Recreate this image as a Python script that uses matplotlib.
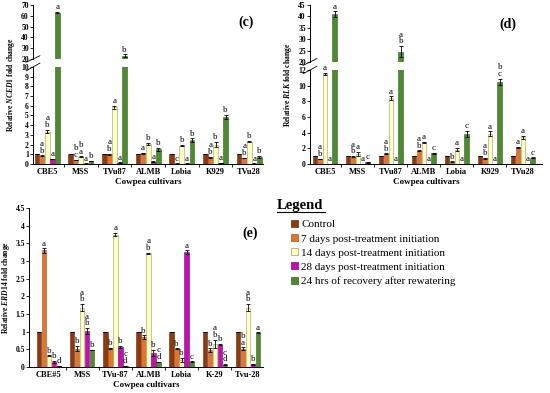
import matplotlib.pyplot as plt
import numpy as np
from matplotlib.patches import Patch
from matplotlib.lines import Line2D

plt.rcParams['font.family'] = 'Liberation Serif'
plt.rcParams['font.weight'] = 'bold'
plt.rcParams['axes.labelweight'] = 'bold'
plt.rcParams['mathtext.fontset'] = 'custom'
plt.rcParams['mathtext.it'] = 'Liberation Serif:italic:bold'
plt.rcParams['mathtext.rm'] = 'Liberation Serif:bold'

series = ['Control', '7 days post-treatment initiation',
          '14 days post-treatment initiation',
          '28 days post-treatment initiation',
          '24 hrs of recovery after rewatering']
colors = ['#8B3A12', '#E0762E', '#FFFFC4', '#C010B0', '#4F8A32']
edges = ['#6B2A08', '#A85420', '#9A9A70', '#8A0080', '#35601F']

cultivars_cd = ['CBE5', 'MSS', 'TVu87', 'ALMB', 'Lobia', 'K929', 'TVu28']
cultivars_e = ['CBE#5', 'MSS', 'TVu-87', 'ALMB', 'Lobia', 'K-29', 'Tvu-28']

# rows: cultivars, columns: series
nced1 = [[1, 0.85, 3.35, 0.5, 63],
         [1, 0.4, 0.75, 0.05, 0.3],
         [1, 1.0, 5.85, 0.15, 23],
         [1, 1.1, 2.1, 0.25, 1.5],
         [1, 0.05, 1.9, 0.05, 2.45],
         [1, 0.7, 2.0, 0.1, 4.85],
         [1, 0.6, 2.3, 0.05, 0.75]]
nced1_err = [[0, 0.05, 0.2, 0.03, 0.5],
             [0, 0.03, 0.05, 0.01, 0.03],
             [0, 0.05, 0.15, 0.02, 1.2],
             [0, 0.03, 0.1, 0.03, 0.15],
             [0, 0.01, 0.08, 0.01, 0.2],
             [0, 0.05, 0.25, 0.02, 0.25],
             [0, 0.03, 0.08, 0.01, 0.08]]
nced1_sig = [['', 'a\nb', 'a\nb', 'a', 'a'],
             ['', 'b\nc', 'b\na', 'a', 'b'],
             ['', 'a\nb', 'a', 'a', 'b'],
             ['', 'a', 'b', 'a', 'b'],
             ['', 'c', 'b', 'a', 'b'],
             ['', 'a\nb', 'b', 'a', 'b'],
             ['', 'a\nb', 'b', 'a', 'b']]

rlk = [[1, 0.65, 11.5, 0.02, 41],
       [1, 0.95, 1.3, 0.05, 0.2],
       [1, 1.3, 8.4, 0.02, 24.5],
       [1, 1.7, 2.75, 0.02, 1.35],
       [1, 0.3, 1.85, 0.02, 3.85],
       [1, 0.75, 3.85, 0.02, 10.5],
       [1, 2.15, 3.4, 0.02, 0.8]]
rlk_err = [[0, 0.05, 0.1, 0, 1.2],
           [0, 0.05, 0.25, 0, 0.05],
           [0, 0.05, 0.25, 0, 2.5],
           [0, 0.05, 0.05, 0, 0.1],
           [0, 0.03, 0.2, 0, 0.35],
           [0, 0.05, 0.3, 0, 0.4],
           [0, 0.05, 0.2, 0, 0.05]]
rlk_sig = [['', 'a\nb', 'a', 'a', 'a'],
           ['', 'a\nb', 'a', 'a', 'c'],
           ['', 'a\nb', 'a', 'a', 'a\nb'],
           ['', 'a\nb', 'a', 'a', 'c'],
           ['', 'b', 'a', 'a', 'c'],
           ['', 'a\nb', 'a', 'a', 'b\nc'],
           ['', 'a', 'a', 'a', 'c']]

erd14 = [[1, 3.3, 0.32, 0.15, 0.03],
         [1, 0.52, 1.68, 1.02, 0.48],
         [1, 0.53, 3.75, 0.57, 0.03],
         [1, 0.85, 3.22, 0.4, 0.14],
         [1, 0.52, 0.2, 3.25, 0.15],
         [1, 0.48, 0.65, 0.63, 0.07],
         [1, 0.52, 1.68, 0.08, 0.97]]
erd14_err = [[0, 0.06, 0.01, 0.03, 0.01],
             [0, 0.07, 0.1, 0.08, 0.01],
             [0, 0.01, 0.05, 0.02, 0.01],
             [0, 0.05, 0.01, 0.08, 0.01],
             [0, 0.01, 0.06, 0.05, 0.01],
             [0, 0.05, 0.12, 0.02, 0.01],
             [0, 0.04, 0.1, 0.01, 0.01]]
erd14_sig = [['', 'a', 'b', 'b', 'd'],
             ['', 'b', 'a\nb', 'a\nb', 'b'],
             ['', 'b', 'a', 'b', 'c\nd'],
             ['', 'b', 'a\nb', 'b', 'c\nd'],
             ['', 'b', 'b', 'a', 'c'],
             ['', 'b', 'a\nb', 'b', 'c\nd'],
             ['', 'b\na', 'a\nb', 'b', 'a']]

W, H = 550, 393


def pxAxes(fig, x0, y0, x1, y1):
  return fig.add_axes([x0 / W, 1 - y1 / H, (x1 - x0) / W, (y1 - y0) / H])


def styleAxes(ax, xlim):
  ax.spines['top'].set_visible(False)
  ax.spines['right'].set_visible(False)
  ax.set_xlim(*xlim)
  ax.tick_params(axis='y', labelsize=5.5, length=2, width=0.6, pad=1)
  for s in ('left', 'bottom'):
    ax.spines[s].set_linewidth(0.7)


def drawBars(axs, vals, errs, sig, split):
  n = len(vals)
  x = np.arange(n)
  for ax in axs:
    for k in range(5):
      v = [row[k] for row in vals]
      e = [row[k] for row in errs]
      ax.bar(x + (k - 2) * 0.15, v, 0.14, color=colors[k], edgecolor=edges[k],
             linewidth=0.4, yerr=e,
             error_kw=dict(elinewidth=0.6, capsize=1.2, capthick=0.6,
                           ecolor='black'))
  for i in range(n):
    for k in range(5):
      if sig[i][k] == '':
        continue
      top = vals[i][k] + errs[i][k]
      ax = axs[0] if (split is None or top < split) else axs[1]
      ax.annotate(sig[i][k], (x[i] + (k - 2) * 0.15, top), xytext=(0, 0.5),
                  textcoords='offset points', ha='center', va='bottom',
                  fontsize=6.5, fontweight='normal', linespacing=0.8)


def breakMarks(lower, upper):
  kw = dict(color='black', lw=0.6, clip_on=False)
  d = 0.02
  lower.plot([-d * 1.5, d * 1.5], [1 - d * 2, 1 + d * 2],
             transform=lower.transAxes, **kw)
  upper.plot([-d * 1.5, d * 1.5], [-d * 3, d * 3],
             transform=upper.transAxes, **kw)


def xLabels(ax, names):
  n = len(names)
  ax.set_xticks(np.arange(n))
  ax.set_xticklabels(names, fontsize=6)
  ax.set_xticks(np.arange(n - 1) + 0.5, minor=True)
  ax.tick_params(axis='x', which='major', length=0, pad=3)
  ax.tick_params(axis='x', which='minor', length=2, width=0.6)
  ax.set_xlabel('Cowpea cultivars', fontsize=6.5, labelpad=1)


def brokenPanel(fig, box, ylow, yup, lowticks, upticks, vals, errs, sig,
                names, gene, tag, xlim, tagpos):
  x0, x1, yTop, yMid1, yMid2, yBot = box
  up = pxAxes(fig, x0, yTop, x1, yMid1)
  lo = pxAxes(fig, x0, yMid2, x1, yBot)
  for ax in (up, lo):
    styleAxes(ax, xlim)
  up.set_ylim(*yup)
  lo.set_ylim(*ylow)
  up.set_yticks(upticks)
  lo.set_yticks(lowticks)
  up.spines['bottom'].set_visible(False)
  up.set_xticks([])
  drawBars([lo, up], vals, errs, sig, ylow[1])
  xLabels(lo, names)
  breakMarks(lo, up)
  fig.text((x0 - 22) / W, 1 - (yTop + yBot) / 2 / H,
           'Relative $\\it{' + gene + '}$ fold change', rotation=90,
           ha='center', va='center', fontsize=5.5)
  fig.text(tagpos[0] / W, 1 - tagpos[1] / H, tag, fontsize=10,
           ha='center', va='center')


fig = plt.figure(figsize=(W / 100, H / 100), dpi=100)

brokenPanel(fig, (33, 263, 5, 59, 67, 164), (0, 10), (20, 70),
            np.arange(0, 11, 1), np.arange(20, 71, 10),
            nced1, nced1_err, nced1_sig, cultivars_cd, 'NCED1', '(c)',
            (-0.42, 6.41), (246, 22))

brokenPanel(fig, (310, 542, 5, 62, 70, 164), (0, 12), (20, 45),
            np.arange(0, 13, 2), np.arange(20, 46, 5),
            rlk, rlk_err, rlk_sig, cultivars_cd, 'RLK', '(d)',
            (-0.45, 6.58), (508, 24))

ax = pxAxes(fig, 29, 208, 263, 367)
styleAxes(ax, (-0.6, 6.45))
ax.set_ylim(0, 4.5)
ax.set_yticks(np.arange(0, 4.51, 0.5))
ax.set_yticklabels(['0', '0.5', '1', '1.5', '2', '2.5', '3', '3.5', '4', '4.5'])
drawBars([ax], erd14, erd14_err, erd14_sig, None)
xLabels(ax, cultivars_e)
fig.text(6 / W, 1 - 287 / H, 'Relative $\\it{ERD14}$ fold change',
         rotation=90, ha='center', va='center', fontsize=5.5)
fig.text(250 / W, 1 - 233 / H, '(e)', fontsize=10, ha='center', va='center')

# legend
fig.text(277 / W, 1 - 205 / H, 'Legend', fontsize=10.5, ha='left',
         va='center')
fig.add_artist(Line2D([277 / W, 325 / W], [1 - 212 / H, 1 - 212 / H],
                      color='black', lw=0.8))
handles = [Patch(facecolor=colors[k], edgecolor=edges[k], linewidth=0.5)
           for k in range(5)]
fig.legend(handles, series, loc='upper left',
           bbox_to_anchor=(291 / W, 1 - 220 / H), frameon=False,
           prop={'family': 'Liberation Serif', 'weight': 'normal',
                 'size': 8.0},
           handlelength=0.6, handleheight=0.6, handletextpad=0.3,
           labelspacing=0.42, borderpad=0, borderaxespad=0)

fig.savefig('out.png', dpi=100)
